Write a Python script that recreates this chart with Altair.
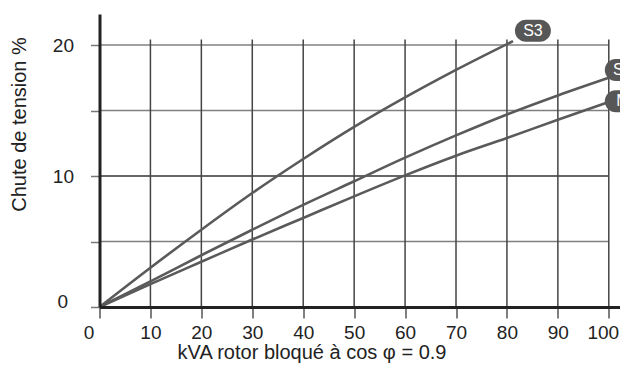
import altair as alt
import pandas as pd

# ---- data ----
kva = [0, 10, 20, 30, 40, 50, 60, 70, 80, 90, 100]
s2_drop = [0, 1.95, 3.95, 5.9, 7.8, 9.6, 11.4, 13.1, 14.7, 16.15, 17.5]
m_drop = [0, 1.75, 3.45, 5.15, 6.8, 8.45, 10.05, 11.55, 12.9, 14.3, 15.65]
s3_kva = [0, 10, 20, 30, 40, 50, 60, 70, 81.2]
s3_drop = [0, 3.0, 5.9, 8.7, 11.3, 13.75, 16.0, 18.1, 20.3]

x_ticks = [0, 10, 20, 30, 40, 50, 60, 70, 80, 90, 100]
y_ticks = [0, 5, 10, 15, 20]
y_labelled = [0, 10, 20]
h_grid = [5, 10, 15, 20]
v_grid = [10, 20, 30, 40, 50, 60, 70, 80, 90, 100]

badge_labels = ["S3", "S2", "M"]
badge_x = [85.1, 102.75, 102.75]
badge_y = [21.1, 18.1, 15.7]

X_MAX = 102.2
Y_MAX = 22.37
GRID_TOP = 20.43

rows = []
for x, y in zip(kva, s2_drop):
    rows.append({"kva": x, "drop": y, "serie": "S2"})
for x, y in zip(kva, m_drop):
    rows.append({"kva": x, "drop": y, "serie": "M"})
for x, y in zip(s3_kva, s3_drop):
    rows.append({"kva": x, "drop": y, "serie": "S3"})
curves = pd.DataFrame(rows)

hgrid_df = pd.DataFrame({"y": h_grid, "x0": [0] * len(h_grid), "x1": [100] * len(h_grid)})
vgrid_df = pd.DataFrame({"x": v_grid, "y0": [0] * len(v_grid), "y1": [GRID_TOP] * len(v_grid)})
badges = pd.DataFrame({"label": badge_labels, "x": badge_x, "y": badge_y})

FONT = "Liberation Sans"
xscale = alt.Scale(domain=[0, X_MAX], nice=False, zero=False)
yscale = alt.Scale(domain=[0, Y_MAX], nice=False, zero=False)

y_label_test = " || ".join(f"datum.value == {v}" for v in y_labelled)

x_axis = alt.Axis(
    values=x_ticks, grid=False, zindex=1,
    tickSize=11, tickColor="#555", tickWidth=1.5,
    domainColor="#222", domainWidth=3,
    labelFont=FONT, labelFontSize=19, labelColor="#222", labelPadding=5,
    labelFlush=False, labelOverlap=False,
    labelOffset={"condition": [
        {"test": "datum.value == 0", "value": -11},
        {"test": "datum.value == 100", "value": -6},
    ], "value": 0},
    title="kVA rotor bloqué à cos φ = 0.9", titleFont=FONT, titleFontSize=20,
    titleFontWeight="normal", titleColor="#222",
    titleX=212, titleY=45, titleAlign="center", titleBaseline="middle",
)
y_axis = alt.Axis(
    values=y_ticks, grid=False, zindex=1,
    tickSize=9, tickColor="#777", tickWidth=1.5,
    domainColor="#222", domainWidth=3,
    labelFont=FONT, labelFontSize=19, labelColor="#222",
    labelFlush=False, labelOverlap=False,
    labelExpr=f"({y_label_test}) ? datum.label : ''",
    labelPadding={"condition": {"test": "datum.value == 0", "value": 23}, "value": 17},
    labelOffset={"condition": {"test": "datum.value == 0", "value": -6}, "value": 0},
    title="Chute de tension %", titleFont=FONT, titleFontSize=20,
    titleFontWeight="normal", titleColor="#222",
    titleAngle=-90, titleX=-80, titleY=110, titleAlign="center", titleBaseline="middle",
)

hrules = alt.Chart(hgrid_df).mark_rule(strokeWidth=1.5).encode(
    x=alt.X("x0:Q", scale=xscale, axis=x_axis),
    x2="x1:Q",
    y=alt.Y("y:Q", scale=yscale, axis=y_axis),
    color=alt.condition("datum.y == 10", alt.value("#333"), alt.value("#808080")),
)
vrules = alt.Chart(vgrid_df).mark_rule(strokeWidth=1.5, color="#444").encode(
    x=alt.X("x:Q", scale=xscale),
    y=alt.Y("y0:Q", scale=yscale),
    y2="y1:Q",
)
lines = alt.Chart(curves).mark_line(strokeWidth=2.6, interpolate="monotone").encode(
    x=alt.X("kva:Q", scale=xscale),
    y=alt.Y("drop:Q", scale=yscale),
    detail="serie:N",
    color=alt.value("#5a5a5a"),
)
badge_rect = alt.Chart(badges).mark_rect(
    width=36, height=22, cornerRadius=11, color="#575757"
).encode(
    x=alt.X("x:Q", scale=xscale),
    y=alt.Y("y:Q", scale=yscale),
)
badge_text = alt.Chart(badges).mark_text(
    font=FONT, fontSize=16, color="white", align="center", baseline="middle"
).encode(
    x=alt.X("x:Q", scale=xscale),
    y=alt.Y("y:Q", scale=yscale),
    text="label:N",
)

chart = alt.layer(hrules, vrules, lines, badge_rect, badge_text).properties(
    width=520.5, height=293,
    autosize=alt.AutoSizeParams(type="none"),
    padding={"left": 91.5, "top": 6, "right": 0, "bottom": 56},
    background="white",
).configure_view(stroke=None)

chart.save("out.html", embed_options={"renderer": "svg", "actions": False})
